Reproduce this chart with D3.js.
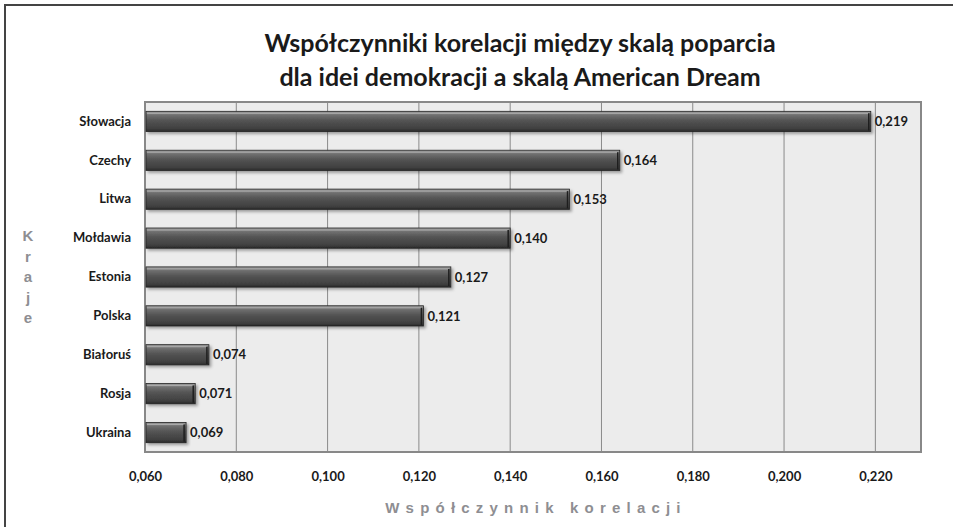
<!DOCTYPE html>
<html>
<head>
<meta charset="utf-8">
<script src="https://cdn.jsdelivr.net/npm/d3@7"></script>
<style>
  html, body { margin: 0; padding: 0; background: #fff; }
  svg { display: block; }
</style>
</head>
<body>
<svg id="chart" width="953" height="527"></svg>
<script>
// ---------- data ----------
const countries = ['Słowacja', 'Czechy', 'Litwa', 'Mołdawia', 'Estonia', 'Polska', 'Białoruś', 'Rosja', 'Ukraina'];
const values    = [0.219, 0.164, 0.153, 0.140, 0.127, 0.121, 0.074, 0.071, 0.069];
const xTicks    = [0.06, 0.08, 0.10, 0.12, 0.14, 0.16, 0.18, 0.20, 0.22];
const titleLines = ['Współczynniki korelacji między skalą poparcia', 'dla idei demokracji a skalą American Dream'];
const xTitle = 'Współczynnik korelacji';
const yTitle = 'Kraje';

const rows = countries.map((c, i) => ({ name: c, value: values[i] }));
const fmt = v => d3.format('.3f')(v).replace('.', ',');

// ---------- layout ----------
const svg = d3.select('#chart');
const W = 953, H = 527;
const plot = { left: 145, right: 921, top: 102, bottom: 452 };

const x = d3.scaleLinear().domain([0.06, 0.23]).range([plot.left, plot.right]);
const y = d3.scaleBand().domain(countries).range([plot.top, plot.bottom]).paddingInner(0.48).paddingOuter(0.24);

// outer frame (only top and left edges visible)
svg.append('path')
  .attr('d', `M5,${H + 5} L5,5 L${W + 5},5`)
  .attr('fill', 'none')
  .attr('stroke', '#444')
  .attr('stroke-width', 2);

// gradients
const defs = svg.append('defs');
const grad = defs.append('linearGradient').attr('id', 'barGrad')
  .attr('x1', 0).attr('y1', 0).attr('x2', 0).attr('y2', 1);
[['0%', '#a0a0a0'], ['18%', '#707070'], ['45%', '#545454'], ['85%', '#404040'], ['100%', '#2a2a2a']]
  .forEach(([o, c]) => grad.append('stop').attr('offset', o).attr('stop-color', c));
const filt = defs.append('filter').attr('id', 'shadow').attr('x', '-5%').attr('y', '-20%').attr('width', '115%').attr('height', '160%');
filt.append('feDropShadow').attr('dx', 2).attr('dy', 2).attr('stdDeviation', 1.5).attr('flood-color', '#000').attr('flood-opacity', 0.35);

// title
svg.append('text')
  .attr('x', 520).attr('text-anchor', 'middle')
  .style('font-family', 'Lato, "Open Sans", sans-serif')
  .style('font-weight', 'bold').style('font-size', '25px').attr('fill', '#1a1a1a')
  .selectAll('tspan').data(titleLines).join('tspan')
  .attr('x', 520).attr('y', (d, i) => 52 + i * 34)
  .text(d => d);

// plot background
svg.append('rect')
  .attr('x', plot.left).attr('y', plot.top)
  .attr('width', plot.right - plot.left).attr('height', plot.bottom - plot.top)
  .attr('fill', '#ececec');

// grid lines
svg.append('g').selectAll('line').data(xTicks.slice(1)).join('line')
  .attr('x1', d => x(d)).attr('x2', d => x(d))
  .attr('y1', plot.top).attr('y2', plot.bottom)
  .attr('stroke', '#8a8a8a').attr('stroke-width', 1);

// plot border
svg.append('rect')
  .attr('x', plot.left).attr('y', plot.top)
  .attr('width', plot.right - plot.left).attr('height', plot.bottom - plot.top)
  .attr('fill', 'none').attr('stroke', '#888').attr('stroke-width', 2);

// bars
const bars = svg.append('g').selectAll('g.bar').data(rows).join('g').attr('class', 'bar');
bars.append('rect')
  .attr('x', x(0.06) + 1)
  .attr('y', d => y(d.name))
  .attr('width', d => x(d.value) - x(0.06) - 1)
  .attr('height', y.bandwidth())
  .attr('fill', 'url(#barGrad)')
  .attr('stroke', '#222').attr('stroke-width', 0.8)
  .attr('filter', 'url(#shadow)');
// highlight line on top of bar
bars.append('line')
  .attr('x1', x(0.06) + 2).attr('x2', d => x(d.value) - 2)
  .attr('y1', d => y(d.name) + 2).attr('y2', d => y(d.name) + 2)
  .attr('stroke', '#b5b5b5').attr('stroke-width', 1).attr('opacity', 0.8);
// right end bevel
bars.append('line')
  .attr('x1', d => x(d.value) - 2).attr('x2', d => x(d.value) - 2)
  .attr('y1', d => y(d.name) + 2).attr('y2', d => y(d.name) + y.bandwidth() - 1)
  .attr('stroke', '#1e1e1e').attr('stroke-width', 1.5);

// value labels
svg.append('g').selectAll('text').data(rows).join('text')
  .attr('x', d => x(d.value) + 4)
  .attr('y', d => y(d.name) + y.bandwidth() / 2)
  .attr('dy', '0.36em')
  .style('font-family', 'Lato, "Open Sans", sans-serif')
  .style('font-weight', 'bold').style('font-size', '13px').attr('fill', '#1a1a1a')
  .text(d => fmt(d.value));

// y axis labels
const yAxis = svg.append('g')
  .attr('transform', `translate(${plot.left},0)`)
  .call(d3.axisLeft(y).tickSize(0).tickPadding(14));
yAxis.select('.domain').remove();
yAxis.selectAll('text')
  .style('font-family', 'Lato, "Open Sans", sans-serif')
  .style('font-weight', 'bold').style('font-size', '13px').attr('fill', '#1a1a1a');

// x axis labels
const xAxis = svg.append('g')
  .attr('transform', `translate(0,${plot.bottom})`)
  .call(d3.axisBottom(x).tickValues(xTicks).tickFormat(fmt).tickSize(0).tickPadding(20));
xAxis.select('.domain').remove();
xAxis.selectAll('text')
  .style('font-family', 'Lato, "Open Sans", sans-serif')
  .style('font-weight', 'bold').style('font-size', '13px').attr('fill', '#1a1a1a');

// x title (letter-spaced)
svg.append('text')
  .attr('x', 536).attr('y', 513).attr('text-anchor', 'middle')
  .style('font-family', '"Liberation Sans", Arial, sans-serif')
  .style('font-weight', 'bold').style('font-size', '15px')
  .style('letter-spacing', '6.2px').attr('fill', '#8e8e92')
  .text(xTitle);

// y title (stacked letters)
svg.append('g').selectAll('text').data(yTitle.split('')).join('text')
  .attr('x', 28).attr('y', (d, i) => 241 + i * 20.5).attr('text-anchor', 'middle')
  .style('font-family', '"Liberation Sans", Arial, sans-serif')
  .style('font-weight', 'bold').style('font-size', '15px').attr('fill', '#8e8e92')
  .text(d => d);
</script>
</body>
</html>
